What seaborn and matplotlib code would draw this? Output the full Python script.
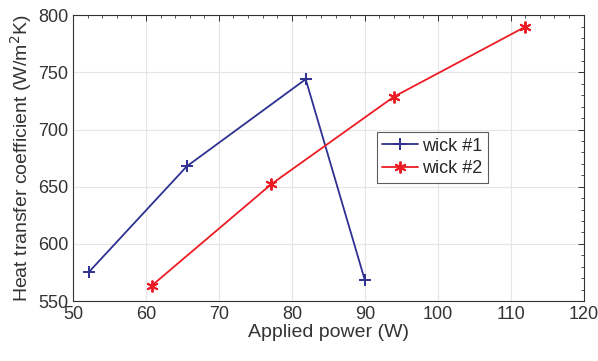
import pandas as pd
import numpy as np
import matplotlib
matplotlib.use('Agg')
import matplotlib.pyplot as plt
import seaborn as sns
from matplotlib.ticker import MultipleLocator

# values
wick1_power = [52.2, 65.6, 81.9, 90.0]
wick1_htc = [575.5, 667.8, 744.0, 568.5]
wick2_power = [60.8, 77.2, 94.0, 111.9]
wick2_htc = [563.5, 652.3, 728.7, 789.5]

df = pd.concat([
    pd.DataFrame({'power': wick1_power, 'htc': wick1_htc, 'wick': 'wick #1'}),
    pd.DataFrame({'power': wick2_power, 'htc': wick2_htc, 'wick': 'wick #2'}),
], ignore_index=True)

sns.set_style('white')
plt.rcParams['font.family'] = ['Liberation Sans', 'DejaVu Sans']

fig = plt.figure(figsize=(5.98, 3.61), dpi=100)
ax = fig.add_axes([0.122, 0.166, 0.854, 0.792])

palette = {'wick #1': '#2E3192', 'wick #2': '#ED1C24'}
sns.lineplot(data=df, x='power', y='htc', hue='wick', style='wick',
             palette=palette, markers={'wick #1': '+', 'wick #2': (6, 2, 0)},
             dashes=False, sort=False, estimator=None, linewidth=1.3,
             markersize=8.5, markeredgewidth=1.4, ax=ax)

# seaborn gives markers a white edge; colour them like their line
for line in ax.lines:
    line.set_markeredgecolor(line.get_color())
    line.set_markerfacecolor(line.get_color())

ax.set_xlim(50, 120)
ax.set_ylim(550, 800)
ax.xaxis.set_major_locator(MultipleLocator(10))
ax.xaxis.set_minor_locator(MultipleLocator(2))
ax.yaxis.set_major_locator(MultipleLocator(50))
ax.yaxis.set_minor_locator(MultipleLocator(10))
ax.grid(True, which='major', color='#e6e6e6', linewidth=0.8)
ax.set_axisbelow(True)
for s in ax.spines.values():
    s.set_color('#333333')
    s.set_linewidth(0.8)
ax.tick_params(which='both', direction='in', top=True, right=True,
               color='#333333', labelcolor='#333333', labelsize=13)
ax.tick_params(which='major', length=4, width=0.7)
ax.tick_params(which='minor', length=2, width=0.6)

ax.set_xlabel('Applied power (W)', fontsize=14, color='#333333', labelpad=1)
ax.set_ylabel('Heat transfer coefficient (W/m$^2$K)', fontsize=14, color='#333333', labelpad=3)

leg = ax.legend(loc='upper left', bbox_to_anchor=(0.595, 0.59), fontsize=13,
                frameon=True, fancybox=False, borderpad=0.3, handlelength=2.0,
                handletextpad=0.2, borderaxespad=0, labelspacing=0.3)
leg.get_frame().set_edgecolor('#333333')
leg.get_frame().set_linewidth(0.8)
for h in leg.get_lines():
    h.set_markeredgecolor(h.get_color())
    h.set_markerfacecolor(h.get_color())

fig.savefig('out.png', dpi=100)
